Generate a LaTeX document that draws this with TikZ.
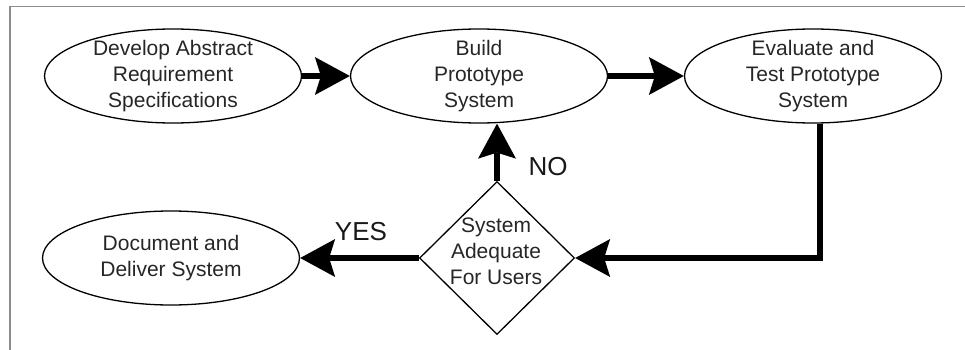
\documentclass[tikz,border=0pt]{standalone}
\usepackage{fontspec}
\setmainfont{Liberation Sans}
\usetikzlibrary{shapes.geometric,arrows.meta}
\begin{document}
\begin{tikzpicture}[x=1pt,y=-1pt,
  ell/.style={ellipse,draw=black,line width=1.3pt,minimum width=257pt,minimum height=94pt,inner sep=0pt},
  dec/.style={diamond,draw=black,line width=1.3pt,minimum width=155pt,minimum height=153pt,inner sep=0pt},
  txt/.style={align=center,font=\fontsize{21}{26}\selectfont,text=black!85,inner sep=0pt},
  lbl/.style={font=\fontsize{26}{30}\selectfont,text=black!90,inner sep=0pt},
  conn/.style={line width=6pt,-{Stealth[length=35pt,width=38pt,inset=6pt,line width=0pt]}},
  frame/.style={draw=black!45,line width=1.5pt}]
\useasboundingbox (0,0) rectangle (965,350);
\draw[frame] (10,350) -- (10,6.5) -- (965,6.5);

\node[ell] (e1) at (173,76) {};
\node[txt] (t1) at (e1) {Develop Abstract\\Requirement\\Specifications};
\node[ell] (e2) at (479,76) {};
\node[txt] (t2) at (e2) {Build\\Prototype\\System};
\node[ell] (e3) at (813,76) {};
\node[txt] (t3) at (e3) {Evaluate and\\Test Prototype\\System};
\node[ell] (e4) at (171,258) {};
\node[txt] (t4) at (e4) {Document and\\Deliver System};
\node[dec] (dia) at (497,258) {};
\node[txt] (td) at (496,251) {System\\Adequate\\For Users};

\node[lbl] (no) at (548,167) {NO};
\node[lbl] (yes) at (361,232) {YES};

\coordinate (c1) at ([xshift=7pt]e3.south);
\draw[conn] (e1) -- (e2);
\draw[conn] (e2) -- (e3);
\draw[conn] (dia.north) -- (dia.north |- e2.south);
\draw[conn] (c1) |- (dia.east);
\draw[conn] (dia.west) -- (e4.east);
\end{tikzpicture}
\end{document}
